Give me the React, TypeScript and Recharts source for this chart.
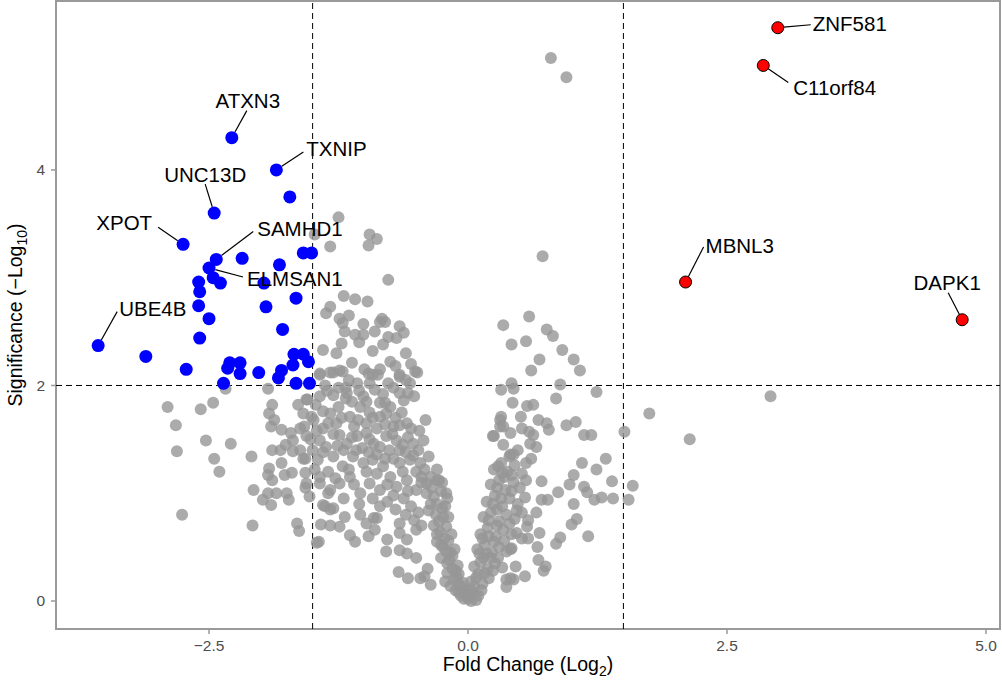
import { ScatterChart, Scatter, XAxis, YAxis, ReferenceLine, ReferenceArea, Label } from "recharts";

const xDomain: [number, number] = [-3.977, 5.135];
const yDomain: [number, number] = [-0.26, 5.568];
const xTicks = [-2.5, 0, 2.5, 5];
const yTicks = [0, 2, 4];

// log2 fold change / -log10 p for genes below the cut-offs
const greyPoints: [number, number][] = [
  // far left, under the p threshold
  [-2.90, 1.80], [-2.82, 1.63], [-2.81, 1.39], [-2.76, 0.80], [-2.58, 1.78], [-2.46, 1.84], [-2.53, 1.49],
  [-2.45, 1.32], [-2.40, 1.20], [-2.29, 1.46], [-2.34, 1.97], [-2.09, 1.34], [-2.07, 1.03], [-2.08, 0.70],
  [-1.93, 1.97], [-1.89, 1.82], [-1.92, 1.74], [-1.87, 1.68], [-1.90, 1.62], [-1.80, 1.59], [-1.71, 1.56],
  [-1.62, 1.60], [-1.58, 1.62], [-1.64, 1.82], [-1.55, 1.87], [-1.51, 1.71], [-1.89, 1.40], [-1.81, 1.40],
  [-1.76, 1.45], [-1.69, 1.49], [-1.69, 1.39], [-1.62, 1.40], [-1.59, 1.32], [-1.80, 1.28], [-1.92, 1.23],
  [-1.93, 1.17], [-1.89, 1.12], [-1.77, 1.17], [-1.70, 1.19], [-1.57, 1.19], [-1.98, 0.94], [-1.90, 0.89],
  [-1.93, 1.00], [-1.85, 1.00], [-1.75, 1.00], [-1.73, 0.94], [-1.57, 1.05], [-1.53, 0.97], [-1.65, 0.72],
  [-1.63, 0.65], [-1.46, 0.54],
  // lower part of the left cloud
  [-1.42, 0.71], [-1.33, 0.70], [-1.24, 0.69], [-1.35, 1.00], [-1.38, 0.88], [-1.33, 0.85], [-1.43, 1.09],
  [-1.44, 0.55], [-1.14, 0.61], [-1.09, 0.55], [-0.96, 0.60], [-0.90, 0.66], [-0.91, 0.77], [-1.40, 0.89],
  [-1.30, 0.86], [-1.19, 0.78], [-1.04, 0.80], [-0.98, 0.72], [-0.78, 0.57], [-0.79, 0.46], [-0.66, 0.47],
  [-0.59, 0.44], [-0.67, 0.27], [-0.58, 0.21], [-0.46, 0.21], [-0.42, 0.23], [-0.36, 0.15], [-0.50, 0.40],
  [-0.39, 0.30], [-0.66, 0.63], [-0.66, 0.72], [-0.59, 0.57], [-0.50, 0.66], [-0.88, 0.77],
  [-0.62, 0.95], [-0.55, 0.88], [-0.48, 0.82], [-0.70, 0.85], [-0.78, 0.92], [-0.85, 0.88], [-0.52, 0.75],
  [-0.45, 0.70], [-0.60, 0.80],
  // main left cloud
  [-1.43, 2.10], [-1.30, 2.12], [-1.21, 2.13], [-1.07, 2.02], [-0.95, 2.02], [-0.92, 2.10], [-0.77, 2.02],
  [-0.66, 2.08], [-0.56, 2.02], [-0.49, 2.12],
  [-1.56, 1.87], [-1.43, 1.90], [-1.30, 1.91], [-1.17, 1.93], [-1.01, 1.90], [-0.85, 1.84], [-0.80, 1.84],
  [-0.66, 1.93], [-0.58, 1.93], [-1.04, 1.80],
  [-1.59, 1.74], [-1.49, 1.68], [-1.33, 1.74], [-1.27, 1.65], [-1.14, 1.71], [-1.06, 1.68], [-0.98, 1.65],
  [-0.85, 1.71], [-0.79, 1.74], [-0.72, 1.62], [-0.66, 1.63], [-0.59, 1.65], [-0.41, 1.68],
  [-1.56, 1.53], [-1.43, 1.49], [-1.37, 1.43], [-1.24, 1.54], [-1.17, 1.46], [-1.07, 1.53], [-0.98, 1.56],
  [-0.91, 1.46], [-0.85, 1.43], [-0.79, 1.53], [-0.69, 1.49], [-0.63, 1.45], [-0.53, 1.46], [-0.43, 1.49],
  [-1.57, 1.32], [-1.45, 1.31], [-1.30, 1.34], [-1.21, 1.25], [-1.11, 1.34], [-1.01, 1.28], [-0.92, 1.31],
  [-0.82, 1.25], [-0.72, 1.32], [-0.66, 1.28], [-0.56, 1.31], [-0.46, 1.28], [-0.38, 1.34], [-0.30, 1.22],
  [-1.56, 1.09], [-1.43, 1.15], [-1.33, 1.03], [-1.24, 1.09], [-1.14, 1.15], [-1.04, 1.00], [-0.95, 1.09],
  [-0.85, 1.03], [-0.75, 1.15], [-0.69, 1.06], [-0.59, 1.12], [-0.50, 1.03], [-0.40, 1.09], [-0.30, 1.12],
  [-0.21, 1.00],
  [-1.25, 1.80], [-1.12, 1.85], [-0.95, 1.75], [-0.88, 1.60], [-0.75, 1.80], [-0.70, 1.70], [-1.20, 1.40],
  [-1.02, 1.42], [-0.88, 1.36], [-0.76, 1.40], [-0.60, 1.38], [-0.50, 1.20], [-0.98, 1.20], [-1.15, 1.22],
  [-1.35, 1.20], [-1.40, 1.60], [-1.50, 1.40], [-1.47, 1.82], [-1.00, 2.15], [-1.15, 2.05], [-0.85, 2.15],
  [-0.70, 2.18], [-0.55, 2.20], [-1.38, 2.00], [-1.25, 1.98],
  [-1.36, 1.95], [-1.18, 1.98], [-1.05, 1.95], [-0.90, 1.96], [-0.72, 1.98], [-0.62, 1.86], [-0.52, 1.90],
  [-1.40, 1.76], [-1.22, 1.70], [-1.10, 1.62], [-0.92, 1.70], [-0.80, 1.64], [-0.64, 1.75], [-0.55, 1.60],
  [-0.47, 1.58], [-1.46, 1.58], [-1.30, 1.55], [-1.12, 1.52], [-0.95, 1.50], [-0.73, 1.55], [-0.58, 1.52],
  [-0.48, 1.40], [-1.40, 1.38], [-1.26, 1.44], [-1.08, 1.40], [-0.96, 1.38], [-0.80, 1.32], [-0.66, 1.40],
  [-0.53, 1.35], [-0.42, 1.22], [-1.48, 1.22], [-1.28, 1.14], [-1.10, 1.08], [-0.88, 1.18], [-0.78, 1.08],
  [-0.63, 1.20], [-0.45, 1.15], [-0.35, 1.05], [-0.25, 1.10], [-1.20, 0.95], [-1.05, 0.90], [-0.92, 0.95],
  [-0.72, 0.98], [-0.58, 1.02], [-1.52, 1.50], [-1.35, 1.65], [-1.18, 1.88], [-0.98, 1.85], [-0.82, 1.92],
  [-0.60, 2.05],
  // left, above the p threshold but inside the fold cut-off
  [-1.25, 3.56], [-1.48, 3.40], [-1.33, 3.29], [-0.95, 3.40], [-0.88, 3.36], [-0.96, 3.30], [-0.77, 2.98],
  [-1.20, 2.83], [-1.09, 2.80], [-0.97, 2.78], [-1.33, 2.73], [-1.37, 2.67], [-1.24, 2.62], [-1.21, 2.58],
  [-1.19, 2.50], [-1.01, 2.57], [-1.09, 2.47], [-1.01, 2.47], [-0.83, 2.62], [-0.85, 2.59], [-0.80, 2.59],
  [-0.66, 2.55], [-0.62, 2.49], [-0.69, 2.44], [-0.77, 2.45], [-1.22, 2.39], [-1.40, 2.33], [-1.27, 2.30],
  [-0.92, 2.32], [-0.82, 2.38], [-0.75, 2.22], [-1.12, 2.21], [-1.24, 2.14], [-0.51, 2.13], [-0.66, 2.10],
  [-0.87, 2.10], [-0.96, 2.11], [-1.33, 2.12], [-1.43, 2.11], [-1.05, 2.40], [-0.60, 2.30], [-1.15, 2.65],
  [-0.90, 2.50],
  // left arm of the V
  [-0.40, 1.00], [-0.33, 0.97], [-0.26, 1.02], [-0.20, 0.95], [-0.38, 0.84], [-0.31, 0.80], [-0.25, 0.86],
  [-0.19, 0.78], [-0.33, 0.70], [-0.27, 0.64], [-0.21, 0.69], [-0.16, 0.62], [-0.30, 0.55], [-0.24, 0.50],
  [-0.19, 0.56], [-0.13, 0.48], [-0.26, 0.40], [-0.20, 0.35], [-0.15, 0.42], [-0.10, 0.33], [-0.20, 0.26],
  [-0.14, 0.20], [-0.09, 0.25], [-0.05, 0.17], [-0.12, 0.10], [-0.07, 0.05], [-0.03, 0.09], [0.00, 0.02],
  [-0.45, 1.10], [-0.36, 1.15], [-0.28, 1.12], [-0.22, 0.88], [-0.28, 0.74], [-0.23, 0.58], [-0.17, 0.45],
  [-0.12, 0.28], [-0.06, 0.12], [-0.02, 0.06],
  [-0.36, 0.90], [-0.30, 0.90], [-0.24, 0.78], [-0.30, 0.62], [-0.26, 0.52], [-0.21, 0.46], [-0.18, 0.38],
  [-0.15, 0.30], [-0.11, 0.22], [-0.08, 0.15], [-0.04, 0.02], [-0.09, 0.08], [-0.17, 0.14], [-0.22, 0.18],
  // right arm of the V
  [0.25, 1.22], [0.32, 1.28], [0.38, 1.20], [0.45, 1.26], [0.52, 1.18],
  [0.22, 1.08], [0.30, 1.12], [0.36, 1.03], [0.44, 1.10], [0.50, 1.05], [0.56, 1.12],
  [0.18, 0.92], [0.26, 0.98], [0.33, 0.88], [0.40, 0.95], [0.48, 0.90], [0.55, 0.96],
  [0.15, 0.78], [0.22, 0.82], [0.30, 0.74], [0.37, 0.80], [0.45, 0.76], [0.52, 0.82],
  [0.12, 0.62], [0.19, 0.68], [0.27, 0.60], [0.34, 0.66], [0.42, 0.62],
  [0.09, 0.48], [0.16, 0.52], [0.23, 0.45], [0.30, 0.50], [0.37, 0.46],
  [0.06, 0.32], [0.12, 0.36], [0.19, 0.30], [0.26, 0.35], [0.33, 0.31],
  [0.03, 0.18], [0.08, 0.22], [0.14, 0.16], [0.20, 0.21],
  [0.01, 0.04], [0.05, 0.08], [0.10, 0.05],
  [0.20, 0.60], [0.28, 0.85], [0.15, 0.40], [0.10, 0.25],
  [0.02, 0.10], [0.06, 0.14], [0.03, 0.00], [0.08, 0.01], [0.13, 0.10], [0.16, 0.26], [0.22, 0.40],
  [0.25, 0.55], [0.28, 0.70], [0.32, 0.95], [0.35, 1.15], [0.42, 1.02], [0.47, 0.84], [0.40, 0.72],
  [0.35, 0.56], [0.29, 0.40], [0.24, 0.28], [0.18, 0.44], [0.11, 0.44], [0.14, 0.58], [0.20, 0.75],
  [0.24, 0.90], [0.28, 1.05], [0.40, 1.34], [0.48, 1.40], [0.56, 1.28],
  // right side spread
  [0.42, 2.02], [0.32, 1.96], [0.44, 1.97], [0.89, 2.01], [0.85, 1.88], [1.24, 1.94], [0.43, 1.84],
  [0.57, 1.81], [0.63, 1.82], [0.51, 1.71], [0.32, 1.71], [0.31, 1.62], [0.68, 1.68], [0.76, 1.65],
  [0.78, 1.59], [0.95, 1.63], [1.04, 1.66], [0.41, 1.56], [0.52, 1.60], [0.59, 1.57], [0.63, 1.54],
  [0.60, 1.46], [0.66, 1.43], [0.25, 1.53], [0.34, 1.45], [1.12, 1.54], [1.19, 1.54], [1.51, 1.57],
  [0.41, 1.36], [0.44, 1.36], [0.61, 1.32], [0.29, 1.25], [0.33, 1.19], [0.42, 1.17], [1.10, 1.28],
  [1.02, 1.17], [0.98, 1.08], [1.33, 1.32], [1.24, 1.22], [1.39, 1.11], [1.59, 1.07], [1.55, 0.94],
  [1.12, 1.06], [1.15, 1.01], [1.22, 0.94], [1.29, 0.96], [1.40, 0.95], [0.71, 1.11], [0.71, 0.94],
  [0.77, 0.94], [0.87, 1.01], [1.02, 0.90], [1.05, 0.76], [1.00, 0.71], [1.16, 0.60], [0.89, 0.59],
  [0.85, 0.53], [0.66, 0.82], [0.58, 0.75], [0.57, 0.69], [0.69, 0.63], [0.67, 0.50], [0.68, 0.38],
  [0.75, 0.32], [0.73, 0.28], [0.46, 0.32], [0.55, 0.23], [0.52, 0.58], [0.58, 0.58], [0.47, 0.63],
  [0.42, 0.49], [0.41, 0.48], [0.37, 0.13], [0.41, 0.21], [0.31, 1.68], [0.34, 1.62], [0.24, 1.53],
  [0.37, 0.20], [0.44, 0.20], [2.92, 1.90], [1.75, 1.74], [2.14, 1.50],
  // right, above the p threshold
  [0.34, 2.56], [0.59, 2.64], [0.76, 2.52], [0.82, 2.46], [0.42, 2.38], [0.56, 2.41], [0.91, 2.33],
  [0.69, 2.24], [0.61, 2.14], [1.02, 2.24], [1.08, 2.14], [0.72, 3.20], [0.80, 5.04], [0.95, 4.86],
];

// significant and down-regulated, unlabelled
const downPoints: [number, number][] = [
  [-1.72, 3.75], [-2.18, 3.18], [-1.82, 3.12], [-1.59, 3.23], [-1.51, 3.23], [-2.60, 2.96], [-2.46, 3.00],
  [-2.39, 2.95], [-2.59, 2.87], [-1.97, 2.95], [-1.66, 2.81], [-2.60, 2.74], [-1.95, 2.73], [-2.50, 2.62],
  [-1.79, 2.52], [-2.59, 2.44], [-3.11, 2.27], [-2.72, 2.15], [-2.30, 2.21], [-2.20, 2.21], [-2.32, 2.16],
  [-2.20, 2.11], [-2.02, 2.12], [-1.80, 2.14], [-1.83, 2.07], [-1.68, 2.29], [-1.59, 2.29], [-1.69, 2.19],
  [-1.54, 2.22], [-2.36, 2.02], [-1.66, 2.02], [-1.53, 2.02],
];

const geneNames = ["ZNF581", "C11orf84", "MBNL3", "DAPK1", "ATXN3", "TXNIP", "UNC13D", "XPOT", "SAMHD1", "ELMSAN1", "UBE4B"];
const geneFoldChange = [2.99, 2.85, 2.10, 4.77, -2.28, -1.85, -2.45, -2.75, -2.43, -2.50, -3.57];
const geneSignificance = [5.32, 4.97, 2.96, 2.61, 4.30, 4.00, 3.60, 3.31, 3.17, 3.09, 2.37];

// leader line end (lx, ly) and text anchor point (tx, ty), in px from the point
const labelLayout: Record<string, { lx: number; ly: number; tx: number; ty: number; anchor: "start" | "middle" | "end" }> = {
  ZNF581: { lx: 33, ly: -3, tx: 35, ty: -4, anchor: "start" },
  C11orf84: { lx: 25, ly: 17, tx: 30, ty: 22, anchor: "start" },
  MBNL3: { lx: 18, ly: -35, tx: 20, ty: -37, anchor: "start" },
  DAPK1: { lx: -14, ly: -27, tx: -15, ty: -37, anchor: "middle" },
  ATXN3: { lx: 15, ly: -27, tx: 16, ty: -37, anchor: "middle" },
  TXNIP: { lx: 27, ly: -18, tx: 30, ty: -21, anchor: "start" },
  UNC13D: { lx: -9, ly: -29, tx: -9, ty: -39, anchor: "middle" },
  XPOT: { lx: -25, ly: -17, tx: -31, ty: -22, anchor: "end" },
  SAMHD1: { lx: 37, ly: -28, tx: 41, ty: -31, anchor: "start" },
  ELMSAN1: { lx: 34, ly: 9, tx: 38, ty: 10, anchor: "start" },
  UBE4B: { lx: 19, ly: -34, tx: 21, ty: -37, anchor: "start" },
};

const FONT = "'Liberation Sans', Arial, sans-serif";

const greyData = greyPoints.map(([x, y]) => ({ x, y }));
const downData = downPoints.map(([x, y]) => ({ x, y }));
const geneData = geneNames.map((gene, i) => ({ x: geneFoldChange[i], y: geneSignificance[i], gene }));

function GreyDot(props: any) {
  return <circle cx={props.cx} cy={props.cy} r={6} fill="#969696" fillOpacity={0.8} />;
}

function BlueDot(props: any) {
  return <circle cx={props.cx} cy={props.cy} r={6.5} fill="#0000ff" />;
}

function GeneDot(props: any) {
  const { cx, cy, payload } = props;
  const l = labelLayout[payload.gene];
  const up = payload.x > 0;
  const r = up ? 6 : 6.5;
  const len = Math.hypot(l.lx, l.ly);
  return (
    <g>
      <line
        x1={cx + (r * l.lx) / len}
        y1={cy + (r * l.ly) / len}
        x2={cx + l.lx}
        y2={cy + l.ly}
        stroke="#000"
        strokeWidth={1.2}
      />
      {up ? (
        <circle cx={cx} cy={cy} r={r} fill="#ff0000" stroke="#000" strokeWidth={1} />
      ) : (
        <circle cx={cx} cy={cy} r={r} fill="#0000ff" />
      )}
      <text
        x={cx + l.tx}
        y={cy + l.ty}
        textAnchor={l.anchor}
        dominantBaseline="central"
        fontSize={20.5}
        fontFamily={FONT}
        fill="#000"
      >
        {payload.gene}
      </text>
    </g>
  );
}

const fmtX = (v: number) => (v === 0 ? "0.0" : (v < 0 ? "\u2212" : "") + Math.abs(v).toFixed(1));

export default function App() {
  return (
    <div style={{ position: "absolute", left: 0, top: 0, background: "#fff" }}>
      <ScatterChart width={1002} height={681} margin={{ top: 1, right: 2, bottom: 0, left: 0 }}>
        <XAxis
          type="number"
          dataKey="x"
          domain={xDomain}
          allowDataOverflow
          ticks={xTicks}
          tickFormatter={fmtX}
          height={52}
          axisLine={false}
          tickLine={{ stroke: "#999", strokeWidth: 1.5 }}
          tickSize={5}
          tickMargin={6}
          tick={{ fontSize: 15.5, fill: "#4d4d4d", fontFamily: FONT }}
        >
          <Label
            content={(p: any) => {
              const vb = p.viewBox;
              return (
                <text x={vb.x + vb.width / 2} y={671} textAnchor="middle" fontSize={19.5} fontFamily={FONT} fill="#000">
                  Fold Change (Log<tspan dy={5} fontSize={14}>2</tspan><tspan dy={-5}>)</tspan>
                </text>
              );
            }}
          />
        </XAxis>
        <YAxis
          type="number"
          dataKey="y"
          domain={yDomain}
          allowDataOverflow
          ticks={yTicks}
          width={56}
          axisLine={false}
          tickLine={{ stroke: "#999", strokeWidth: 1.5 }}
          tickSize={5}
          tickMargin={6}
          tick={{ fontSize: 15.5, fill: "#4d4d4d", fontFamily: FONT }}
        >
          <Label
            content={(p: any) => {
              const vb = p.viewBox;
              const cy = vb.y + vb.height / 2;
              return (
                <text
                  x={22}
                  y={cy}
                  transform={`rotate(-90, 22, ${cy})`}
                  textAnchor="middle"
                  fontSize={19.5}
                  fontFamily={FONT}
                  fill="#000"
                >
                  Significance (−Log<tspan dy={5} fontSize={14}>10</tspan><tspan dy={-5}>)</tspan>
                </text>
              );
            }}
          />
        </YAxis>
        <ReferenceArea
          x1={xDomain[0]}
          x2={xDomain[1]}
          y1={yDomain[0]}
          y2={yDomain[1]}
          fill="none"
          stroke="#9a9a9a"
          strokeWidth={2}
        />
        <Scatter data={greyData} shape={GreyDot} isAnimationActive={false} />
        <ReferenceLine x={-1.5} stroke="#000" strokeDasharray="6 4" strokeWidth={1} />
        <ReferenceLine x={1.5} stroke="#000" strokeDasharray="6 4" strokeWidth={1} />
        <ReferenceLine y={2} stroke="#000" strokeDasharray="6 4" strokeWidth={1} />
        <Scatter data={downData} shape={BlueDot} isAnimationActive={false} />
        <Scatter data={geneData} shape={GeneDot} isAnimationActive={false} />
      </ScatterChart>
    </div>
  );
}
